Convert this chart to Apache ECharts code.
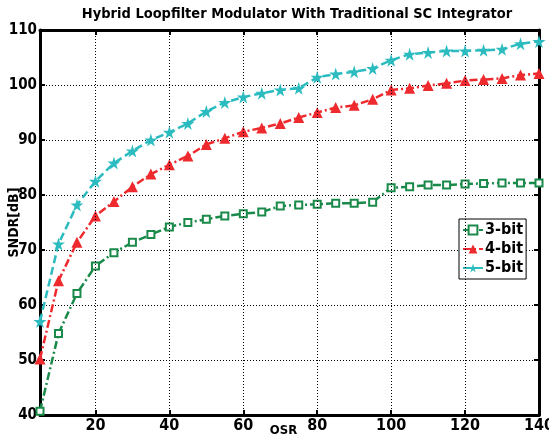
<!DOCTYPE html>
<html><head><meta charset="utf-8">
<script src="https://cdn.jsdelivr.net/npm/echarts@6/dist/echarts.min.js"></script>
<style>html,body{margin:0;padding:0;background:#fff}#c{width:549px;height:434px}</style>
</head><body><div id="c"></div>
<script>
const osr = [5,10,15,20,25,30,35,40,45,50,55,60,65,70,75,80,85,90,95,100,105,110,115,120,125,130,135,140];
const bit3 = [40.7,54.8,62.1,67.1,69.5,71.4,72.8,74.2,75.0,75.6,76.2,76.6,76.9,78.0,78.2,78.3,78.5,78.5,78.7,81.3,81.5,81.8,81.8,82.0,82.1,82.2,82.2,82.2];
const bit4 = [50.2,64.4,71.4,76.2,78.8,81.5,83.8,85.5,87.1,89.2,90.3,91.5,92.2,93.0,94.1,95.0,95.9,96.3,97.4,99.1,99.4,99.9,100.3,100.8,101.0,101.2,101.8,102.1];
const bit5 = [57.0,71.1,78.2,82.5,85.8,88.0,90.0,91.4,93.0,95.2,96.8,97.8,98.5,99.1,99.4,101.4,102.0,102.4,103.0,104.5,105.6,105.9,106.2,106.2,106.3,106.5,107.5,107.9];
const seriesNames = ['3-bit','4-bit','5-bit'];
const xTicks = [20,40,60,80,100,120,140];
const title = 'Hybrid Loopfilter Modulator With Traditional SC Integrator';

const FONT = "'DejaVu Sans Condensed'";
const star = 'path://M50,0 L61,35 L98,35 L68,57 L79,91 L50,70 L21,91 L32,57 L2,35 L39,35 Z';
const chart = echarts.init(document.getElementById('c'));
const mk = a => osr.map((x,i)=>[x,a[i]]);
const axisLine = {show:true, lineStyle:{color:'#000', width:3}};
chart.setOption({
  animation:false,
  title:{text:title, left:292, top:2, textAlign:'center',
    textStyle:{fontFamily:FONT, fontWeight:'bold', fontSize:14.5, color:'#000'}},
  grid:{left:40, top:30, right:10, bottom:19, containLabel:false, outerBoundsMode:'none'},
  legend:{orient:'vertical', left:459, top:219, data:seriesNames,
    backgroundColor:'#fff', borderColor:'#000', borderWidth:1,
    padding:[3,3,3,3], itemGap:3, itemWidth:20, itemHeight:11,
    textStyle:{fontFamily:FONT, fontWeight:'bold', fontSize:16, color:'#000', padding:[0,0,0,-3]}},
  xAxis:[{type:'value', min:5, max:140, name:'OSR', nameLocation:'middle', nameGap:9, nameMoveOverlap:false,
    nameTextStyle:{fontFamily:FONT, fontWeight:'bold', fontSize:13, color:'#000', padding:[0,12,0,0], verticalAlign:'top'},
    axisLine:axisLine,
    axisTick:{inside:true, length:5, lineStyle:{color:'#000', width:2}, customValues:xTicks},
    axisLabel:{customValues:xTicks, fontFamily:FONT, fontWeight:'bold', fontSize:16, color:'#000', margin:3},
    splitLine:{show:false}},
   {type:'value', position:'top', min:5, max:140,
    axisLine:axisLine,
    axisTick:{inside:true, length:5, lineStyle:{color:'#000', width:2}, customValues:xTicks},
    axisLabel:{show:false}, splitLine:{show:false}}],
  yAxis:[{type:'value', min:40, max:110, interval:10, name:'SNDR[dB]', nameLocation:'middle', nameGap:19, nameMoveOverlap:false,
    nameTextStyle:{fontFamily:FONT, fontWeight:'bold', fontSize:14, color:'#000'},
    axisLine:axisLine,
    axisTick:{inside:true, length:5, lineStyle:{color:'#000', width:2}},
    axisLabel:{fontFamily:FONT, fontWeight:'bold', fontSize:15, color:'#000', margin:3},
    splitLine:{show:true, lineStyle:{color:'#000', width:1, type:[1,2]}}},
   {type:'value', position:'right', min:40, max:110, interval:10,
    axisLine:axisLine,
    axisTick:{inside:true, length:5, lineStyle:{color:'#000', width:2}},
    axisLabel:{show:false}, splitLine:{show:false}}],
  series:[
    {name:'3-bit', type:'line', data:mk(bit3), symbol:'rect', symbolSize:7, color:'#1a8a4a',
     itemStyle:{color:'#fff', borderColor:'#1a8a4a', borderWidth:2},
     lineStyle:{width:2.5, color:'#1a8a4a', type:[8,3,2,3]}, z:3},
    {name:'4-bit', type:'line', data:mk(bit4), symbol:'triangle', symbolSize:11, color:'#ee2a2e',
     itemStyle:{color:'#ee2a2e'},
     lineStyle:{width:2.5, color:'#ee2a2e', type:[8,3,2,3]}, z:4},
    {name:'5-bit', type:'line', data:mk(bit5), symbol:star, symbolSize:13, color:'#2cbcc0',
     itemStyle:{color:'#2cbcc0'},
     lineStyle:{width:2.5, color:'#2cbcc0', type:[8,4]}, z:5},
    {type:'line', data:[], silent:true,
     markLine:{symbol:'none', silent:true, label:{show:false},
       lineStyle:{color:'#000', width:1, type:[1,2]},
       data:xTicks.filter(v=>v<140).map(v=>({xAxis:v}))}}
  ]
});
</script></body></html>
